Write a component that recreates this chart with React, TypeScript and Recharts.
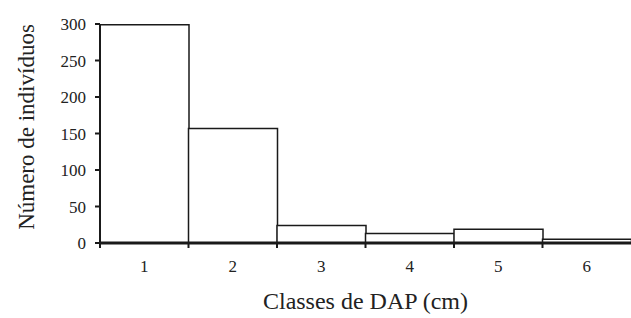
import React from 'react';
import { BarChart, Bar, XAxis, YAxis, Label } from 'recharts';

const classes = ['1', '2', '3', '4', '5', '6'];
const counts = [299, 157, 24, 13, 19, 5];
const yTicks = [0, 50, 100, 150, 200, 250, 300];

const data = classes.map((c, i) => ({ classe: c, n: counts[i] }));

const W = 631;
const H = 318;
const FONT = '"Liberation Serif", "Times New Roman", serif';
const LEFT = 100;
const RIGHT = 0;
const BAND = (W - LEFT - RIGHT) / classes.length;

const XTick = (props: any) => {
  const { x, y, payload } = props;
  const bx = x - BAND / 2;
  return (
    <g>
      <line x1={bx} y1={y} x2={bx} y2={y + 5} stroke="#1a1a1a" strokeWidth={2} />
      <text x={x} y={y + 29} textAnchor="middle" fontFamily={FONT} fontSize={17} fill="#222">
        {payload.value}
      </text>
    </g>
  );
};

const YTitle = (props: any) => {
  const { viewBox } = props;
  const cx = viewBox.x + 34;
  const cy = 127;
  return (
    <text
      x={cx}
      y={cy}
      transform={`rotate(-90, ${cx}, ${cy})`}
      textAnchor="middle"
      fontFamily={FONT}
      fontSize={23}
      fill="#222"
    >
      Número de indivíduos
    </text>
  );
};

export default function App() {
  return (
    <div style={{ position: 'absolute', left: 0, top: 0, background: '#fff' }}>
      <BarChart
        width={W}
        height={H}
        data={data}
        margin={{ top: 24, right: RIGHT, left: 0, bottom: 0 }}
        barCategoryGap={0}
        barGap={0}
      >
        <XAxis
          dataKey="classe"
          height={75}
          tickLine={false}
          tickSize={0}
          tickMargin={0}
          interval={0}
          tick={<XTick />}
          axisLine={{ stroke: '#1a1a1a', strokeWidth: 3 }}
        >
          <Label
            value="Classes de DAP (cm)"
            position="insideBottom"
            offset={9}
            style={{ fontFamily: FONT, fontSize: 24, fill: '#222' }}
          />
        </XAxis>
        <YAxis
          width={LEFT}
          domain={[0, 300]}
          ticks={yTicks}
          interval={0}
          tickSize={5}
          tickMargin={9}
          tickLine={{ stroke: '#1a1a1a', strokeWidth: 2 }}
          axisLine={{ stroke: '#1a1a1a', strokeWidth: 2 }}
          tick={{ fontFamily: FONT, fontSize: 17, fill: '#222' }}
        >
          <Label content={<YTitle />} />
        </YAxis>
        <Bar dataKey="n" fill="#fff" stroke="#1a1a1a" strokeWidth={1.5} isAnimationActive={false} />
      </BarChart>
    </div>
  );
}
